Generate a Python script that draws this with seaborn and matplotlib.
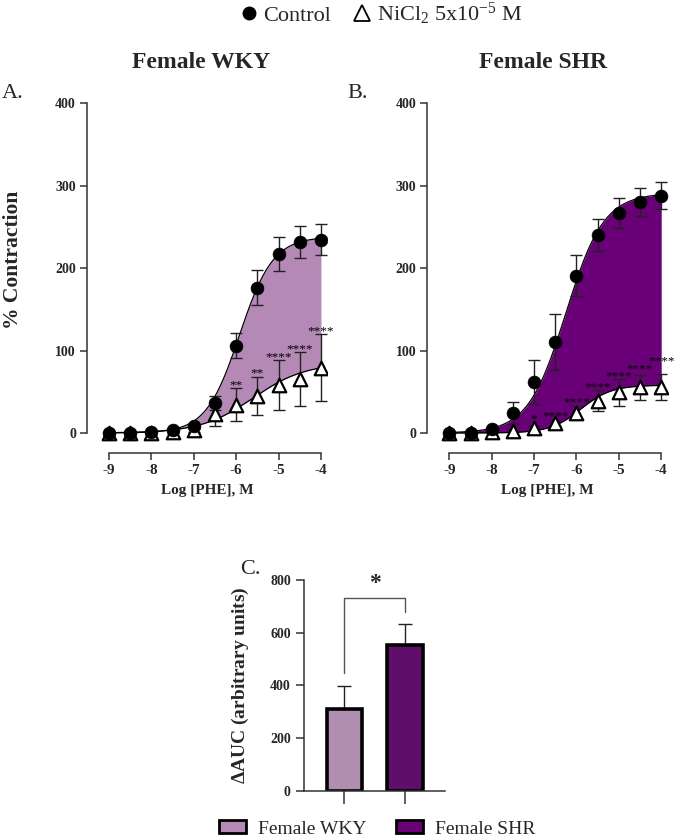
import numpy as np
import pandas as pd
import seaborn as sns
import matplotlib.pyplot as plt
from matplotlib.lines import Line2D
from matplotlib.patches import Patch

# concentration-response data (mean, SEM)
log_phe = [-9, -8.5, -8, -7.5, -7, -6.5, -6, -5.5, -5, -4.5, -4]

wky_ctrl = [0, 0, 0.8, 3.6, 8.9, 36.4, 106, 176.4, 217.6, 232.2, 234.6]
wky_ctrl_sem = [1, 1, 1, 1.5, 2, 9, 15, 21, 20.5, 19.5, 19]
wky_ni = [0, 0, 0, 1, 3, 23.5, 34, 45.3, 58.2, 65.5, 79.3]
wky_ni_sem = [0.5, 0.5, 0.5, 1, 2, 15, 20, 23, 30, 32.5, 41]

shr_ctrl = [0, 0, 4.9, 24.3, 61.9, 110.4, 191, 240.3, 267, 280, 288]
shr_ctrl_sem = [1, 1, 2, 13, 27, 34, 24.5, 19.5, 18.5, 17, 16]
shr_ni = [0, 0, 1, 2, 5.7, 12, 24.7, 39.2, 49.3, 55.4, 55.8]
shr_ni_sem = [0.5, 0.5, 0.5, 1, 3, 4, 8, 13, 16, 15.5, 16]

wky_stars = ['', '', '', '', '', '', '**', '**', '****', '****', '****']
shr_stars = ['', '', '', '', '*', '****', '****', '****', '****', '****', '****']

# sigmoid fit parameters (bottom, top, logEC50, hill slope)
wky_ctrl_fit = [0, 238, -5.92, 1.1]
wky_ni_fit = [0, 85, -5.6, 0.7]
shr_ctrl_fit = [0, 291, -6.25, 0.97]
shr_ni_fit = [0, 58, -5.9, 1.2]

# delta AUC bar data
groups = ['Female WKY', 'Female SHR']
auc_mean = [310, 553]
auc_sem = [87, 79]

light_purple = '#B589B5'
dark_purple = '#6A0078'

sns.set_style('ticks')
plt.rcParams['font.family'] = ['Liberation Serif', 'DejaVu Serif']
plt.rcParams['mathtext.fontset'] = 'custom'
plt.rcParams['mathtext.rm'] = 'Liberation Serif'
plt.rcParams['mathtext.it'] = 'Liberation Serif:italic'
plt.rcParams['mathtext.bf'] = 'Liberation Serif:bold'

fig = plt.figure(figsize=(6.75, 8.39), dpi=100)


def hill(x, p):
    b, t, ec, h = p
    return b + (t - b) / (1 + 10 ** ((ec - x) * h))


def curve_panel(ax, ctrl, ctrl_sem, ni, ni_sem, pc, pn, stars, lift, fill):
    xs = np.linspace(-9, -4, 300)
    yc = hill(xs, pc)
    yn = hill(xs, pn)
    ax.fill_between(xs, yn, yc, where=yc >= yn, color=fill, lw=0, zorder=1)
    ax.plot(xs, yc, color='black', lw=0.9, zorder=2)
    ax.plot(xs, yn, color='black', lw=0.9, zorder=2)

    ax.errorbar(log_phe, ni, yerr=ni_sem, fmt='none', ecolor='#222222',
                elinewidth=1, capsize=4.5, capthick=1, zorder=3)
    ax.errorbar(log_phe, ctrl, yerr=ctrl_sem, fmt='none', ecolor='#222222',
                elinewidth=1, capsize=4.5, capthick=1, zorder=3)

    df_n = pd.DataFrame({'x': log_phe, 'y': ni})
    df_c = pd.DataFrame({'x': log_phe, 'y': ctrl})
    sns.scatterplot(data=df_n, x='x', y='y', ax=ax, marker='^', s=95,
                    color='white', edgecolor='black', linewidth=1.6, zorder=4)
    sns.scatterplot(data=df_c, x='x', y='y', ax=ax, marker='o', s=85,
                    color='black', edgecolor='black', linewidth=0.5, zorder=5)

    for xv, yv, e, s, lf in zip(log_phe, ni, ni_sem, stars, lift):
        if s:
            ax.text(xv, yv + e + lf, s, ha='center', va='baseline',
                    fontsize=9.5, color='black', clip_on=False, zorder=6)

    ax.set_xlim(-9.52, -3.85)
    ax.set_ylim(-24.3, 405)
    ax.set_yticks([0, 100, 200, 300, 400])
    ax.set_xticks([-9, -8, -7, -6, -5, -4])
    ax.set_xticklabels(['-9', '-8', '-7', '-6', '-5', '-4'])
    ax.spines['left'].set_bounds(0, 400)
    ax.spines['bottom'].set_bounds(-9, -4)
    for sp in ['top', 'right']:
        ax.spines[sp].set_visible(False)
    for sp in ['left', 'bottom']:
        ax.spines[sp].set_linewidth(1.1)
        ax.spines[sp].set_color('#333333')
    ax.tick_params(length=5, width=1.1, color='#333333', labelsize=10, pad=3)
    ax.tick_params(axis='x', labelsize=11)
    for lab in ax.get_xticklabels() + ax.get_yticklabels():
        lab.set_fontweight('bold')
    ax.set_xlabel('Log [PHE], M', fontsize=11, fontweight='bold', labelpad=5)
    ax.set_ylabel('')


ax_a = fig.add_axes([0.1289, 0.4601, 0.356, 0.4216])
ax_b = fig.add_axes([0.633, 0.4601, 0.356, 0.4216])
curve_panel(ax_a, wky_ctrl, wky_ctrl_sem, wky_ni, wky_ni_sem,
            wky_ctrl_fit, wky_ni_fit, wky_stars, [0] * 11, light_purple)
curve_panel(ax_b, shr_ctrl, shr_ctrl_sem, shr_ni, shr_ni_sem,
            shr_ctrl_fit, shr_ni_fit, shr_stars,
            [0, 0, 0, 0, 4, 1, 1, 0, 0, 3, 12], dark_purple)

fig.text(0.019, 0.69, '% Contraction', rotation=90, ha='center', va='center',
         fontsize=15.5, fontweight='bold')
fig.text(201 / 675, 1 - 62 / 839, 'Female WKY', ha='center', va='center',
         fontsize=17, fontweight='bold')
fig.text(543 / 675, 1 - 62 / 839, 'Female SHR', ha='center', va='center',
         fontsize=17, fontweight='bold')
fig.text(0.002, 1 - 93 / 839, 'A.', ha='left', va='center', fontsize=16)
fig.text(347 / 675, 1 - 93 / 839, 'B.', ha='left', va='center', fontsize=16)
fig.text(240 / 675, 1 - 570 / 839, 'C.', ha='left', va='center', fontsize=16)

# top legend
handles = [Line2D([], [], marker='o', ls='none', color='black', markersize=9),
           Line2D([], [], marker='^', ls='none', markerfacecolor='white',
                  markeredgecolor='black', markeredgewidth=1.3, markersize=11)]
fig.legend(handles, ['Control', r'NiCl$_2$ 5x10$^{\mathrm{-}5}$ M'], loc='center',
           bbox_to_anchor=(379 / 675, 1 - 14 / 839), ncol=2, frameon=False,
           fontsize=16, handletextpad=0.05, columnspacing=0.8, handlelength=1.2)

# panel C: delta AUC bars
ax_c = fig.add_axes([0.4504, 0.0576, 0.209, 0.2511])
df_auc = pd.DataFrame({'group': groups, 'auc': auc_mean})
sns.barplot(data=df_auc, x='group', y='auc', hue='group',
            palette=[light_purple, dark_purple], width=0.58,
            edgecolor='black', linewidth=2.6, ax=ax_c, legend=False, zorder=2)
ax_c.errorbar([0, 1], auc_mean, yerr=[[0, 0], auc_sem], fmt='none',
              ecolor='#222222', elinewidth=1, capsize=5, capthick=1, zorder=1)
ax_c.set_xlim(-0.66, 1.66)
ax_c.set_ylim(0, 800)
ax_c.set_yticks([0, 200, 400, 600, 800])
ax_c.set_xticks([0, 1])
ax_c.set_xticklabels(['', ''])
for sp in ['top', 'right']:
    ax_c.spines[sp].set_visible(False)
for sp in ['left', 'bottom']:
    ax_c.spines[sp].set_linewidth(1.1)
    ax_c.spines[sp].set_color('#333333')
ax_c.tick_params(length=6, width=1.1, color='#333333', labelsize=10)
ax_c.tick_params(axis='x', length=9)
for lab in ax_c.get_yticklabels():
    lab.set_fontweight('bold')
ax_c.set_xlabel('')
ax_c.set_ylabel(r'$\mathbf{\Delta}$AUC (arbitrary units)', fontsize=14,
                fontweight='bold', labelpad=14)

# significance bracket
ax_c.plot([0, 0, 1, 1], [447, 731, 731, 680], color='#555555', lw=1,
          clip_on=False)
ax_c.text(0.5, 745, '*', ha='center', va='bottom', fontsize=17,
          fontweight='bold', clip_on=False)

leg_handles = [Patch(facecolor=light_purple, edgecolor='black', lw=2),
               Patch(facecolor=dark_purple, edgecolor='black', lw=2)]
fig.legend(leg_handles, groups, loc='center',
           bbox_to_anchor=(377 / 675, 1 - 829 / 839), ncol=2, frameon=False,
           fontsize=14, handlelength=1.4, handleheight=0.6,
           columnspacing=1.5, handletextpad=0.6)

fig.savefig('out.png', dpi=100)
